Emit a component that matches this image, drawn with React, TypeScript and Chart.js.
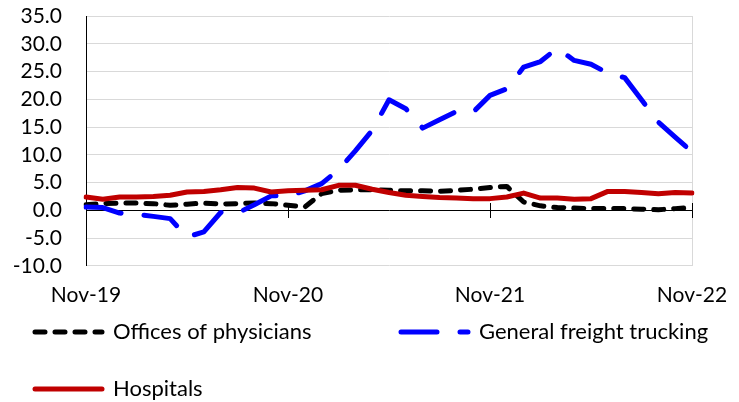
import React, { useEffect, useRef } from "react";
import { Chart, registerables } from "chart.js";

Chart.register(...registerables);

const months = [
  "Nov-19", "Dec-19",
  "Jan-20", "Feb-20", "Mar-20", "Apr-20", "May-20", "Jun-20", "Jul-20", "Aug-20", "Sep-20", "Oct-20", "Nov-20", "Dec-20",
  "Jan-21", "Feb-21", "Mar-21", "Apr-21", "May-21", "Jun-21", "Jul-21", "Aug-21", "Sep-21", "Oct-21", "Nov-21", "Dec-21",
  "Jan-22", "Feb-22", "Mar-22", "Apr-22", "May-22", "Jun-22", "Jul-22", "Aug-22", "Sep-22", "Oct-22", "Nov-22",
];

const tickLabels = ["Nov-19", "Nov-20", "Nov-21", "Nov-22"];

const officesOfPhysicians = [
  1.0, 1.2, 1.3, 1.3, 1.2, 0.9, 1.1, 1.3, 1.1, 1.2, 1.3, 1.2, 0.9, 0.6, 3.0, 3.6, 3.7, 3.7, 3.6,
  3.5, 3.5, 3.4, 3.6, 3.8, 4.1, 4.3, 1.5, 0.8, 0.5, 0.4, 0.3, 0.3, 0.3, 0.2, 0.1, 0.3, 0.5,
];

const generalFreightTrucking = [
  0.6, 0.5, -0.5, -0.7, -1.1, -1.5, -4.8, -3.9, -0.4, -0.5, 1.0, 2.6, 2.6, 3.5, 4.8, 7.3, 10.7, 14.4, 19.9,
  18.3, 14.8, 16.3, 17.8, 17.7, 20.7, 21.9, 25.8, 26.8, 29.2, 27.0, 26.3, 24.7, 23.9, 19.9, 15.9, 13.2, 10.5,
];

const hospitals = [
  2.4, 2.0, 2.4, 2.4, 2.5, 2.7, 3.3, 3.4, 3.7, 4.1, 4.0, 3.3, 3.5, 3.6, 3.7, 4.5, 4.5, 3.8, 3.2,
  2.7, 2.5, 2.3, 2.2, 2.1, 2.1, 2.4, 3.1, 2.2, 2.2, 2.0, 2.1, 3.4, 3.4, 3.2, 3.0, 3.2, 3.1,
];

const seriesNames = ["Offices of physicians", "General freight trucking", "Hospitals"];

const FONT = "Lato, 'DejaVu Sans', sans-serif";
const FONT_SIZE = 21;
const LEGEND_FONT_SIZE = 22;

// legend layout (columns / rows on the canvas)
const LEGEND_COL_X = [35, 401];
const LEGEND_ROW_Y = [332, 389];
const LEGEND_SLOTS = [
  { col: 0, row: 0 },
  { col: 1, row: 0 },
  { col: 0, row: 1 },
];
const LEGEND_SAMPLE_LEN = 67;
const LEGEND_TEXT_GAP = 78;

const zeroAxisTicks = {
  id: "zeroAxisTicks",
  beforeDatasetsDraw(chart: any) {
    const { ctx, scales } = chart;
    const xs = scales.x;
    const ys = scales.y;
    const y0 = Math.round(ys.getPixelForValue(0));
    ctx.save();
    ctx.strokeStyle = "#000";
    ctx.lineWidth = 1;
    months.forEach((m, i) => {
      if (i > 0 && tickLabels.includes(m)) {
        const px = Math.round(xs.getPixelForValue(i)) + 0.5;
        ctx.beginPath();
        ctx.moveTo(px, y0 - 7);
        ctx.lineTo(px, y0 + 8);
        ctx.stroke();
      }
    });
    ctx.restore();
  },
};

const gridLegend = {
  id: "gridLegend",
  afterDraw(chart: any) {
    const { ctx } = chart;
    ctx.save();
    chart.data.datasets.forEach((ds: any, i: number) => {
      const slot = LEGEND_SLOTS[i];
      const x = LEGEND_COL_X[slot.col];
      const y = LEGEND_ROW_Y[slot.row];
      ctx.beginPath();
      ctx.strokeStyle = ds.borderColor;
      ctx.lineWidth = ds.borderWidth;
      ctx.lineCap = ds.borderCapStyle || "round";
      ctx.setLineDash(ds.borderDash || []);
      ctx.moveTo(x, y);
      ctx.lineTo(x + LEGEND_SAMPLE_LEN, y);
      ctx.stroke();
      ctx.setLineDash([]);
      ctx.fillStyle = "#000";
      ctx.font = `${LEGEND_FONT_SIZE}px ${FONT}`;
      ctx.textBaseline = "middle";
      ctx.textAlign = "left";
      ctx.fillText(ds.label, x + LEGEND_TEXT_GAP, y);
    });
    ctx.restore();
  },
};

export default function App() {
  const canvasRef = useRef<HTMLCanvasElement | null>(null);

  useEffect(() => {
    if (!canvasRef.current) return;
    const chart = new Chart(canvasRef.current, {
      type: "line",
      data: {
        labels: months,
        datasets: [
          {
            label: seriesNames[0],
            data: officesOfPhysicians,
            borderColor: "#000000",
            borderWidth: 5,
            borderDash: [10, 10],
            borderCapStyle: "round",
            borderJoinStyle: "round",
            pointRadius: 0,
            tension: 0,
            order: 3,
          },
          {
            label: seriesNames[1],
            data: generalFreightTrucking,
            borderColor: "#0000FF",
            borderWidth: 5,
            borderDash: [36, 23],
            borderCapStyle: "round",
            borderJoinStyle: "round",
            pointRadius: 0,
            tension: 0,
            order: 2,
          },
          {
            label: seriesNames[2],
            data: hospitals,
            borderColor: "#C00000",
            borderWidth: 5,
            borderCapStyle: "round",
            borderJoinStyle: "round",
            pointRadius: 0,
            tension: 0,
            order: 1,
          },
        ],
      },
      options: {
        animation: false,
        responsive: true,
        maintainAspectRatio: false,
        layout: { padding: { left: 0, right: 47, top: 16, bottom: 94 } },
        plugins: {
          legend: { display: false },
          tooltip: { enabled: false },
        },
        scales: {
          x: {
            type: "category",
            grid: {
              display: true,
              drawOnChartArea: true,
              drawTicks: true,
              tickLength: 17,
              tickColor: "transparent",
              color: (c: any) => (c.index === months.length - 1 ? "#d9d9d9" : "transparent"),
              lineWidth: 1,
            },
            border: { display: false },
            ticks: {
              autoSkip: false,
              maxRotation: 0,
              minRotation: 0,
              padding: 0,
              color: "#000",
              font: { family: FONT, size: FONT_SIZE },
              callback: (_v: any, idx: number) => (tickLabels.includes(months[idx]) ? months[idx] : ""),
            },
          },
          y: {
            min: -10,
            max: 35,
            grid: {
              color: (c: any) => (c.tick && c.tick.value === 0 ? "#000000" : "#d9d9d9"),
              lineWidth: 1,
              drawTicks: true,
              tickLength: 24,
              tickColor: "transparent",
            },
            border: { display: true, color: "#000000", width: 1 },
            ticks: {
              stepSize: 5,
              autoSkip: false,
              padding: 0,
              color: "#000",
              font: { family: FONT, size: FONT_SIZE },
              callback: (v: any) => Number(v).toFixed(1),
            },
            afterFit: (scale: any) => {
              scale.width = 86;
            },
          },
        },
      },
      plugins: [zeroAxisTicks, gridLegend],
    });
    return () => chart.destroy();
  }, []);

  return (
    <div style={{ position: "absolute", left: 0, top: 0, width: 739, height: 402, background: "#fff" }}>
      <canvas ref={canvasRef} />
    </div>
  );
}
